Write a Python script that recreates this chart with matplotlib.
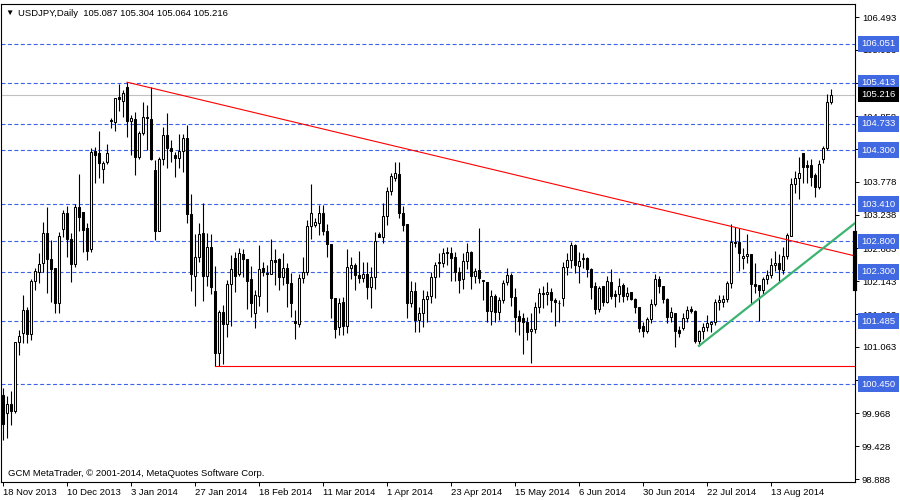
import matplotlib.pyplot as plt
import numpy as np

plt.rcParams['font.family'] = ['Liberation Sans', 'DejaVu Sans']
plt.rcParams['font.size'] = 6.8

# daily OHLC, USDJPY, 18 Nov 2013 .. early Sep 2014
opens = [
    100.27, 99.98, 100.13, 100.01, 101.14, 101.29, 101.67, 101.27, 102.15, 102.30,
    102.44, 102.94, 102.51, 102.36, 101.79, 103.00, 103.27, 102.84, 102.43, 103.37,
    103.28, 103.02, 102.67, 104.29, 104.25, 103.99, 104.11, 104.80, 104.77, 105.18,
    105.11, 105.34, 104.78, 104.81, 104.19, 104.58, 104.85, 104.81, 103.97, 102.97,
    104.16, 104.55, 104.34, 104.22, 104.17, 104.29, 104.50, 103.25, 102.23, 102.54,
    102.94, 102.23, 102.71, 101.98, 100.96, 101.64, 101.44, 102.10, 102.53, 102.26,
    102.59, 102.51, 102.18, 101.62, 101.90, 102.36, 102.28, 102.26, 102.49, 102.51,
    102.21, 102.36, 102.12, 101.49, 101.44, 102.20, 102.30, 103.05, 103.07, 103.10,
    103.27, 102.97, 102.76, 101.87, 101.39, 101.80, 101.41, 102.36, 102.41, 102.25,
    102.20, 102.26, 102.05, 102.21, 102.92, 102.87, 103.22, 103.63, 103.84, 103.91,
    103.27, 103.09, 101.79, 101.98, 101.51, 101.62, 101.85, 101.90, 102.21, 102.44,
    102.44, 102.62, 102.61, 102.54, 102.30, 102.18, 102.48, 102.62, 102.23, 102.33,
    102.16, 102.13, 101.66, 101.90, 101.64, 101.83, 102.13, 102.25, 101.88, 101.57,
    101.54, 101.47, 101.33, 101.36, 101.72, 101.95, 101.94, 101.97, 101.83, 101.79,
    101.87, 102.38, 102.49, 102.74, 102.39, 102.53, 102.53, 102.35, 102.06, 101.69,
    102.07, 101.80, 102.13, 101.93, 101.93, 102.08, 101.90, 101.97, 101.85, 101.72,
    101.41, 101.33, 101.52, 101.77, 102.18, 102.07, 101.85, 101.56, 101.62, 101.34,
    101.37, 101.54, 101.69, 101.65, 101.16, 101.33, 101.39, 101.44, 101.47, 101.80,
    101.80, 101.85, 102.11, 102.79, 102.79, 102.53, 102.56, 102.59, 102.10, 102.08,
    102.00, 102.18, 102.25, 102.41, 102.44, 102.33, 102.56, 102.89, 103.74, 103.84,
    104.25, 104.05, 104.05, 103.89, 103.69, 104.15, 104.34, 105.087,
]
highs = [
    100.39, 100.26, 100.33, 101.15, 101.34, 101.92, 101.72, 102.18, 102.36, 102.61,
    103.12, 103.37, 102.82, 102.36, 102.95, 103.32, 103.38, 102.94, 103.42, 103.91,
    103.28, 103.10, 104.34, 104.35, 104.62, 104.12, 104.40, 104.83, 105.16, 105.39,
    105.29, 105.42, 104.88, 104.93, 104.62, 105.09, 105.04, 105.34, 104.14, 104.19,
    104.68, 104.91, 104.47, 104.27, 104.57, 104.57, 104.71, 103.58, 102.92, 103.10,
    103.43, 102.94, 102.92, 102.39, 101.67, 101.75, 102.16, 102.58, 102.63, 102.69,
    102.67, 102.51, 102.39, 102.00, 102.74, 102.46, 102.41, 102.84, 102.67, 102.53,
    102.61, 102.44, 102.28, 101.67, 102.26, 102.54, 103.15, 103.74, 103.18, 103.40,
    103.40, 103.09, 102.76, 101.87, 101.87, 101.88, 102.67, 102.54, 102.44, 102.64,
    102.46, 102.46, 102.38, 102.95, 102.95, 103.43, 103.69, 103.93, 104.11, 104.11,
    103.38, 103.09, 102.15, 102.13, 101.72, 102.00, 101.98, 102.30, 102.46, 102.61,
    102.69, 102.71, 102.71, 102.62, 102.38, 102.61, 102.77, 102.64, 102.36, 103.02,
    102.16, 102.13, 102.00, 101.93, 101.88, 102.16, 102.36, 102.28, 102.03, 101.67,
    101.62, 101.56, 101.62, 101.80, 102.03, 102.07, 102.13, 102.03, 101.87, 101.83,
    102.46, 102.61, 102.79, 102.76, 102.62, 102.61, 102.54, 102.36, 102.13, 102.07,
    102.07, 102.23, 102.34, 102.00, 102.20, 102.11, 102.05, 101.97, 101.87, 101.72,
    101.47, 101.56, 101.85, 102.26, 102.23, 102.07, 101.87, 101.72, 101.62, 101.41,
    101.62, 101.74, 101.74, 101.67, 101.34, 101.46, 101.59, 101.49, 101.85, 101.92,
    101.92, 102.15, 103.09, 103.04, 103.02, 102.69, 102.92, 102.59, 102.44, 102.08,
    102.21, 102.33, 102.53, 102.64, 102.59, 102.71, 102.94, 103.84, 103.96, 104.19,
    104.25, 104.14, 104.16, 103.92, 104.14, 104.37, 105.23, 105.304,
]
lows = [
    99.53, 99.56, 99.78, 99.98, 100.93, 101.13, 101.13, 101.17, 102.00, 102.11,
    102.30, 101.95, 101.80, 101.62, 101.62, 102.87, 102.54, 102.13, 102.38, 102.97,
    102.62, 102.49, 102.62, 103.76, 103.84, 103.76, 104.07, 104.67, 104.62, 104.95,
    104.85, 104.52, 104.22, 103.89, 104.15, 104.55, 104.30, 104.14, 102.82, 102.97,
    104.06, 104.01, 104.11, 103.86, 104.01, 103.94, 103.10, 101.98, 101.74, 102.46,
    101.82, 102.06, 101.93, 100.75, 100.75, 100.78, 101.23, 101.41, 101.97, 102.23,
    102.21, 101.69, 101.56, 101.37, 101.74, 102.23, 101.64, 102.26, 102.08, 102.00,
    102.08, 101.72, 101.56, 101.19, 101.39, 102.12, 102.25, 102.84, 103.03, 102.90,
    102.90, 102.54, 101.54, 101.21, 101.26, 101.26, 101.29, 102.18, 102.00, 102.12,
    102.13, 101.85, 101.70, 102.02, 102.87, 102.77, 103.07, 103.56, 103.79, 103.18,
    102.97, 101.54, 101.72, 101.31, 101.31, 101.39, 101.47, 101.79, 101.87, 102.21,
    102.38, 102.41, 102.15, 102.15, 101.95, 102.02, 102.35, 102.02, 102.11, 102.11,
    101.83, 101.47, 101.42, 101.47, 101.51, 101.78, 102.08, 101.74, 101.31, 101.26,
    100.95, 101.18, 100.80, 101.29, 101.62, 101.70, 101.75, 101.64, 101.41, 101.47,
    101.74, 102.25, 102.36, 102.28, 102.11, 102.36, 102.21, 101.85, 101.60, 101.64,
    101.74, 101.79, 101.85, 101.72, 101.80, 101.80, 101.83, 101.83, 101.62, 101.31,
    101.23, 101.29, 101.46, 101.74, 101.95, 101.79, 101.46, 101.47, 101.06, 101.23,
    101.34, 101.47, 101.62, 101.13, 101.08, 101.19, 101.33, 101.31, 101.42, 101.67,
    101.72, 101.80, 102.03, 102.71, 102.31, 102.35, 102.44, 101.77, 101.95, 101.49,
    101.92, 102.10, 102.20, 102.31, 102.13, 102.26, 102.51, 102.89, 103.60, 103.50,
    103.76, 103.76, 103.71, 103.53, 103.66, 104.09, 104.30, 105.064,
]
closes = [
    99.80, 100.12, 100.01, 101.14, 101.25, 101.67, 101.28, 102.15, 102.31, 102.43,
    102.94, 102.51, 102.34, 101.79, 102.89, 103.27, 102.84, 102.43, 103.37, 103.20,
    102.99, 102.64, 104.27, 104.22, 104.09, 104.09, 104.25, 104.78, 105.16, 105.14,
    105.24, 104.78, 104.83, 104.19, 104.58, 104.85, 104.83, 104.16, 102.97, 104.16,
    104.55, 104.34, 104.29, 104.17, 104.29, 104.50, 103.25, 102.26, 102.54, 102.92,
    102.23, 102.71, 102.05, 100.96, 101.64, 101.44, 102.10, 102.35, 102.23, 102.61,
    102.51, 102.15, 101.79, 101.92, 102.35, 102.30, 102.26, 102.49, 102.46, 102.21,
    102.36, 102.12, 101.79, 101.46, 102.20, 102.30, 103.05, 103.27, 103.12, 103.27,
    102.97, 102.76, 101.87, 101.36, 101.79, 101.41, 102.38, 102.41, 102.25, 102.20,
    102.26, 102.05, 102.21, 102.80, 102.87, 103.22, 103.63, 103.88, 103.93, 103.27,
    103.07, 101.79, 101.98, 101.51, 101.62, 101.85, 101.90, 102.21, 102.41, 102.46,
    102.61, 102.61, 102.53, 102.30, 102.16, 102.48, 102.62, 102.23, 102.31, 102.20,
    102.15, 101.66, 101.90, 101.64, 101.83, 102.11, 102.25, 101.88, 101.55, 101.49,
    101.47, 101.31, 101.36, 101.72, 101.95, 101.94, 101.97, 101.83, 101.80, 101.78,
    102.38, 102.49, 102.74, 102.41, 102.48, 102.51, 102.35, 102.05, 101.69, 102.03,
    101.80, 102.15, 101.90, 101.90, 102.07, 101.90, 101.95, 101.85, 101.72, 101.37,
    101.33, 101.52, 101.77, 102.18, 102.07, 101.85, 101.56, 101.64, 101.33, 101.29,
    101.54, 101.67, 101.65, 101.16, 101.33, 101.39, 101.46, 101.47, 101.80, 101.83,
    101.85, 102.11, 102.79, 102.77, 102.61, 102.56, 102.59, 102.10, 102.07, 102.00,
    102.18, 102.25, 102.41, 102.44, 102.34, 102.56, 102.90, 103.74, 103.84, 103.93,
    104.02, 104.02, 103.86, 103.69, 104.07, 104.34, 105.09, 105.216,
]

date_labels = ['18 Nov 2013', '10 Dec 2013', '3 Jan 2014', '27 Jan 2014', '18 Feb 2014',
               '11 Mar 2014', '1 Apr 2014', '23 Apr 2014', '15 May 2014', '6 Jun 2014',
               '30 Jun 2014', '22 Jul 2014', '13 Aug 2014']
bars_per_label = 16

price_ticks = [106.493, 105.953, 105.413, 104.858, 104.318, 103.778, 103.238, 102.683,
               102.143, 101.603, 101.063, 100.523, 99.968, 99.428, 98.888]
level_lines = [106.051, 105.413, 104.733, 104.300, 103.410, 102.800, 102.300, 101.485, 100.450]
last_price = 105.216

# drawn objects
resist_x, resist_y = [31, 213], [105.42, 102.56]
support_x, support_y = [53, 213], [100.75, 100.75]
uptrend_x, uptrend_y = [174, 213], [101.08, 103.10]
edge_mark = [102.02, 102.94]

fig = plt.figure(figsize=(9, 5), dpi=100)
ax = fig.add_axes([1 / 900, 18 / 500, 854 / 900, 478 / 500])

x = np.arange(len(closes))
o, h, l, c = (np.array(v) for v in (opens, highs, lows, closes))
up = c >= o

ax.vlines(x, l, h, color='black', linewidth=0.8, zorder=3)
ax.bar(x, c - o, width=0.5, bottom=o, color=np.where(up, 'white', 'black'),
       edgecolor='black', linewidth=0.75, zorder=4)

for lvl in level_lines:
    ax.axhline(lvl, color='#3c64e6', linewidth=0.8, linestyle=(0, (3.6, 2.2)), zorder=2)
ax.axhline(last_price, color='#c0c0c0', linewidth=0.8, zorder=2)

ax.plot(resist_x, resist_y, color='red', linewidth=0.8, zorder=5)
ax.plot(support_x, support_y, color='red', linewidth=0.8, zorder=5)
ax.plot(uptrend_x, uptrend_y, color='#3cb371', linewidth=1.6, zorder=5)
ax.plot([213, 213], edge_mark, color='black', linewidth=3, zorder=6, clip_on=False)

ax.set_xlim(-0.5, 213)
ax.set_ylim(98.839, 106.707)

ax.yaxis.tick_right()
ax.set_yticks(price_ticks)
ax.set_yticklabels([f'{p:.3f}' for p in price_ticks])
ax.tick_params(axis='y', length=3, width=0.7, pad=2)

ax.set_xticks(np.arange(len(date_labels)) * bars_per_label)
ax.set_xticklabels(date_labels, ha='left')
ax.tick_params(axis='x', length=3, width=0.7, pad=1)

for s in ax.spines.values():
    s.set_linewidth(0.8)
    s.set_color('black')

# price labels on the right scale
for lvl in level_lines:
    ax.annotate(f'{lvl:.3f}', xy=(1, lvl), xycoords=('axes fraction', 'data'),
                xytext=(4.4, 0), textcoords='offset points', ha='left', va='center',
                color='white', zorder=10, annotation_clip=False,
                bbox=dict(boxstyle='square,pad=0.35', fc='#4169e1', ec='none'))
ax.annotate(f'{last_price:.3f}', xy=(1, last_price), xycoords=('axes fraction', 'data'),
            xytext=(4.4, 0), textcoords='offset points', ha='left', va='center',
            color='white', zorder=11, annotation_clip=False,
            bbox=dict(boxstyle='square,pad=0.35', fc='black', ec='none'))

fig.text(5 / 900, 1 - 13 / 500, '\u25bc', fontsize=6, va='center', ha='left')
fig.text(18 / 900, 1 - 13 / 500, 'USDJPY,Daily  105.087 105.304 105.064 105.216',
         va='center', ha='left')
fig.text(8 / 900, 1 - 474 / 500, 'GCM MetaTrader, \u00a9 2001-2014, MetaQuotes Software Corp.',
         va='center', ha='left')

fig.savefig('out.png', dpi=100)
